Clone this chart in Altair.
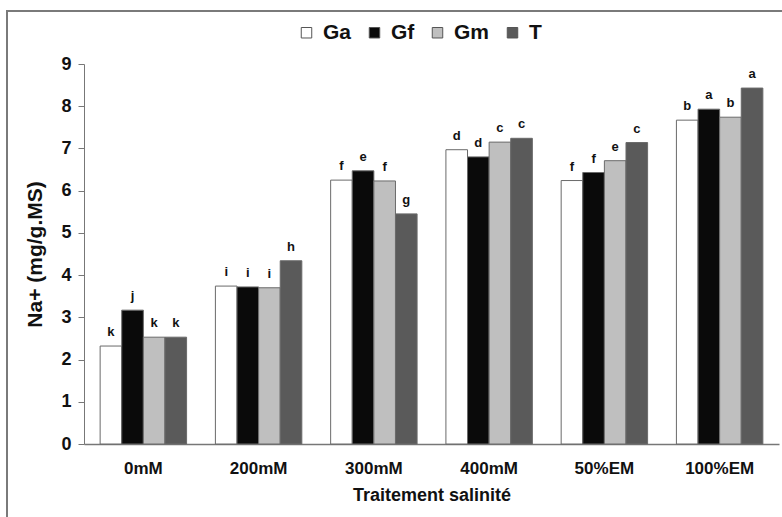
import altair as alt
import pandas as pd

categories = ["0mM", "200mM", "300mM", "400mM", "50%EM", "100%EM"]
series = ["Ga", "Gf", "Gm", "T"]
ga = [2.32, 3.74, 6.25, 6.97, 6.24, 7.67]
gf = [3.17, 3.72, 6.47, 6.80, 6.43, 7.93]
gm = [2.53, 3.70, 6.23, 7.15, 6.71, 7.74]
tt = [2.53, 4.34, 5.45, 7.24, 7.14, 8.43]
letters_ga = ["k", "i", "f", "d", "f", "b"]
letters_gf = ["j", "i", "e", "d", "f", "a"]
letters_gm = ["k", "i", "f", "c", "e", "b"]
letters_t = ["k", "h", "g", "c", "c", "a"]
colors = ["#ffffff", "#0a0a0a", "#bfbfbf", "#5a5a5a"]

rows = []
for vals, lets, s in [(ga, letters_ga, "Ga"), (gf, letters_gf, "Gf"),
                      (gm, letters_gm, "Gm"), (tt, letters_t, "T")]:
    for c, v, l in zip(categories, vals, lets):
        rows.append({"cat": c, "serie": s, "val": v, "lab": l})
df = pd.DataFrame(rows)

FONT = "Liberation Sans"

x = alt.X("cat:N", sort=categories,
          scale=alt.Scale(paddingInner=0.25, paddingOuter=0.14),
          axis=alt.Axis(title="Traitement salinité", labelAngle=0, ticks=False,
                        labelFont=FONT, labelFontSize=17, labelFontWeight="bold",
                        labelColor="#111", labelPadding=16,
                        titleFont=FONT, titleFontSize=18, titleFontWeight="bold",
                        titleColor="#111", titlePadding=10,
                        domainColor="#777", domainWidth=1.5))
xo = alt.XOffset("serie:N", sort=series, scale=alt.Scale(paddingInner=0, paddingOuter=0))

base = alt.Chart(df)

bars = base.mark_bar(stroke="#6a6a6a", strokeWidth=1).encode(
    x=x, xOffset=xo,
    y=alt.Y("val:Q", scale=alt.Scale(domain=[0, 9]),
            axis=alt.Axis(title="Na+ (mg/g.MS)", values=list(range(10)), grid=False,
                          tickSize=6, tickColor="#777", domainColor="#777",
                          labelFont=FONT, labelFontSize=18, labelFontWeight="bold",
                          labelColor="#111", labelPadding=7,
                          titleFont=FONT, titleFontSize=21, titleFontWeight="bold",
                          titleColor="#111", titlePadding=15)),
    fill=alt.Fill("serie:N", sort=series,
                  scale=alt.Scale(domain=series, range=colors),
                  legend=alt.Legend(title=None, orient="none", legendX=212, legendY=-42,
                                    direction="horizontal", symbolType="square",
                                    symbolSize=110, symbolStrokeColor="#555",
                                    symbolStrokeWidth=1, labelFont=FONT,
                                    labelFontSize=21, labelFontWeight="bold",
                                    labelColor="#111", columnPadding=12,
                                    labelOffset=6)),
)

texts = base.mark_text(baseline="bottom", dy=-7, font=FONT, fontSize=13,
                       fontWeight="bold", color="#111").encode(
    x=x, xOffset=xo, y=alt.Y("val:Q"), text="lab:N")

frame = alt.Chart(pd.DataFrame({"a": [0]})).mark_rect(
    fillOpacity=0, stroke="#7a7a7a", strokeWidth=2).encode(
    x=alt.value(-77), x2=alt.value(760), y=alt.value(-53), y2=alt.value(520))

chart = alt.layer(frame, bars, texts).properties(
    width=695, height=380,
    padding={"left": 84, "top": 64, "right": 3, "bottom": 73},
    autosize=alt.AutoSizeParams(type="none"),
    background="white",
).configure_view(stroke=None)

chart.save("out.html", embed_options={"renderer": "svg", "actions": False})
